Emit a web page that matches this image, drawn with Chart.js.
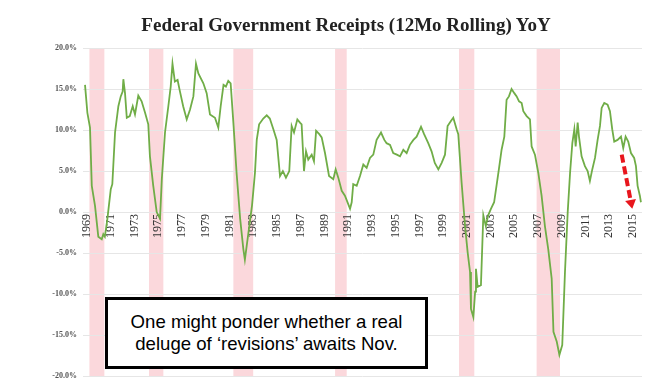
<!DOCTYPE html>
<html>
<head>
<meta charset="utf-8">
<script src="https://cdn.jsdelivr.net/npm/chart.js@4.4.1/dist/chart.umd.min.js"></script>
<style>
    html, body { margin: 0; padding: 0; background: #fff; }
    #wrap { position: relative; width: 667px; height: 387px; }
    #title {
        position: absolute;
        left: 0;
        top: 13px;
        width: 692px;
        text-align: center;
        font-family: 'Liberation Serif', serif;
        font-weight: bold;
        font-size: 19px;
        line-height: 24px;
        color: #222;
        white-space: nowrap;
    }
    #note {
        position: absolute;
        left: 105px;
        top: 297px;
        width: 323px;
        height: 72px;
        box-sizing: border-box;
        border: 3px solid #000;
        background: #fff;
        padding-top: 11px;
        font-family: 'Liberation Sans', Arial, sans-serif;
        font-size: 18.6px;
        line-height: 22px;
        color: #000;
        text-align: center;
    }
</style>
</head>
<body>
<div id="wrap">
    <canvas id="myLineChart" width="667" height="387"></canvas>
    <div id="title">Federal Government Receipts (12Mo Rolling) YoY</div>
    <div id="note">One might ponder whether a real<br>deluge of ‘revisions’ awaits Nov.</div>
</div>
<script>

// position on the time axis (years) and 12mo rolling receipts YoY (%)
var obsYear = [
    1968.83, 1969.03, 1969.25, 1969.4, 1969.67, 1969.95, 1970.24, 1970.37, 1970.5, 1970.7,
    1971.0, 1971.13, 1971.36, 1971.64, 1971.84, 1972.0, 1972.06, 1972.2, 1972.35, 1972.6,
    1972.85, 1973.04, 1973.32, 1973.6, 1973.89, 1974.16, 1974.3, 1974.58, 1974.87, 1975.15,
    1975.3, 1975.57, 1975.85, 1976.05, 1976.2, 1976.4, 1976.63, 1976.8, 1977.1, 1977.4,
    1977.68, 1977.96, 1978.18, 1978.38, 1978.8, 1979.08, 1979.36, 1979.78, 1980.06, 1980.26,
    1980.5, 1980.7, 1980.9, 1981.1, 1981.33, 1981.6, 1981.9, 1982.17, 1982.3, 1982.6,
    1982.9, 1983.15, 1983.3, 1983.5, 1983.85, 1984.14, 1984.4, 1984.7, 1984.98, 1985.26,
    1985.5, 1985.76, 1986.04, 1986.24, 1986.44, 1986.72, 1986.94, 1987.08, 1987.28, 1987.45,
    1987.64, 1987.93, 1988.12, 1988.3, 1988.57, 1988.77, 1989.05, 1989.39, 1989.75, 1989.95,
    1990.17, 1990.46, 1990.73, 1991.0, 1991.16, 1991.3, 1991.43, 1991.72, 1992.0, 1992.28,
    1992.56, 1992.84, 1993.12, 1993.4, 1993.77, 1994.05, 1994.24, 1994.53, 1994.8, 1995.1,
    1995.37, 1995.65, 1995.93, 1996.2, 1996.5, 1996.77, 1997.14, 1997.4, 1997.75, 1998.03,
    1998.3, 1998.6, 1998.88, 1999.16, 1999.38, 1999.66, 1999.86, 2000.14, 2000.28, 2000.56,
    2000.85, 2001.07, 2001.27, 2001.35, 2001.55, 2001.7, 2001.77, 2001.91, 2002.19, 2002.39,
    2002.6, 2002.8, 2003.03, 2003.3, 2003.5, 2003.7, 2003.93, 2004.16, 2004.35, 2004.55,
    2004.77, 2005.0, 2005.2, 2005.4, 2005.62, 2005.76, 2006.04, 2006.32, 2006.46, 2006.74,
    2007.02, 2007.3, 2007.58, 2007.86, 2008.15, 2008.3, 2008.58, 2008.8, 2009.04, 2009.27,
    2009.5, 2009.7, 2009.89, 2010.06, 2010.17, 2010.34, 2010.45, 2010.67, 2010.95, 2011.18,
    2011.37, 2011.57, 2011.8, 2012.02, 2012.22, 2012.36, 2012.58, 2012.86, 2013.06, 2013.25,
    2013.42, 2013.7, 2013.99, 2014.18, 2014.38, 2014.6, 2014.83, 2015.1, 2015.25, 2015.39,
    2015.58, 2015.67
];

var receiptsYoY = [
    15.5, 12.1, 10.3, 3.2, 0.8, -3.0, -3.3, -2.7, -3.0, -1.0,
    2.8, 3.4, 9.7, 12.9, 14.1, 14.7, 16.2, 14.5, 11.5, 11.7,
    12.9, 11.9, 14.2, 13.5, 12.1, 10.7, 6.8, 3.2, 0.0, -0.8,
    4.0, 9.7, 12.9, 15.3, 18.1, 15.9, 16.1, 14.9, 12.9, 11.3,
    12.5, 14.1, 18.1, 16.9, 15.7, 14.5, 11.9, 11.5, 10.3, 12.9,
    15.5, 15.3, 16.0, 15.7, 10.9, 4.8, -0.8, -4.5, -5.8, -2.5,
    0.8, 4.8, 8.8, 10.7, 11.4, 11.8, 11.4, 10.1, 8.8, 4.4,
    5.0, 4.2, 5.0, 10.5, 9.7, 11.3, 10.9, 10.7, 5.0, 7.4,
    6.4, 7.0, 6.2, 9.9, 9.5, 9.1, 7.2, 4.4, 4.0, 5.2,
    4.2, 2.6, 2.0, 1.0, 0.4, 1.2, 3.4, 3.2, 4.4, 5.8,
    5.4, 6.6, 7.0, 8.8, 9.7, 8.8, 8.4, 8.2, 7.2, 7.0,
    6.8, 7.6, 7.2, 8.2, 8.8, 9.2, 10.4, 9.5, 8.4, 7.4,
    6.0, 5.2, 6.0, 7.0, 10.5, 11.1, 11.5, 10.1, 9.5, 3.6,
    -1.7, -4.9, -7.3, -11.8, -12.8, -9.7, -6.9, -9.1, -8.9, -0.4,
    -1.7, -0.4, 0.4, 1.2, 3.2, 5.2, 7.6, 9.2, 13.7, 14.1,
    15.0, 14.5, 14.1, 13.5, 13.3, 12.3, 11.7, 11.3, 8.0, 7.0,
    4.8, 2.0, -1.7, -4.5, -8.1, -14.6, -15.8, -17.4, -16.2, -7.3,
    0.0, 4.8, 8.4, 10.1, 8.0, 10.9, 9.2, 6.8, 5.6, 5.0,
    3.8, 5.2, 6.6, 8.8, 10.5, 12.7, 13.3, 13.1, 12.3, 10.1,
    8.6, 8.8, 9.2, 7.8, 9.2, 8.6, 7.2, 6.6, 5.6, 3.2,
    2.0, 1.2
];

// shaded recessions (start / end on the time axis)
var recessionStart = [1969.2, 1974.22, 1981.33, 1989.9, 2000.34, 2006.88];
var recessionEnd = [1970.46, 1975.43, 1983.0, 1990.88, 2001.63, 2008.85];

// tick labels
var yearTicks = [1969, 1971, 1973, 1975, 1977, 1979, 1981, 1983, 1985, 1987, 1989, 1991,
    1993, 1995, 1997, 1999, 2001, 2003, 2005, 2007, 2009, 2011, 2013, 2015];
var pctTicks = [-20, -15, -10, -5, 0, 5, 10, 15, 20];

// red dashed arrow, [year, %]
var arrowFrom = [2014.05, 7.0];
var arrowTo = [2014.94, 0.4];

var recessionBands = {
    id: 'recessionBands',
    beforeDraw: function(chart) {
        var ctx = chart.ctx;
        var area = chart.chartArea;
        var x = chart.scales.x;
        ctx.save();
        ctx.fillStyle = '#fbd8dc';
        recessionStart.forEach(function(s, i) {
            var x0 = x.getPixelForValue(s);
            var x1 = x.getPixelForValue(recessionEnd[i]);
            ctx.fillRect(x0, area.top + 1, x1 - x0, area.bottom - area.top - 1);
        });
        ctx.restore();
    }
};

var revisionArrow = {
    id: 'revisionArrow',
    afterDatasetsDraw: function(chart) {
        var ctx = chart.ctx;
        var x = chart.scales.x, y = chart.scales.y;
        var x0 = x.getPixelForValue(arrowFrom[0]), y0 = y.getPixelForValue(arrowFrom[1]);
        var x1 = x.getPixelForValue(arrowTo[0]), y1 = y.getPixelForValue(arrowTo[1]);
        var ang = Math.atan2(y1 - y0, x1 - x0);
        var headLen = 9, headW = 5.5;
        var bx = x1 - headLen * Math.cos(ang), by = y1 - headLen * Math.sin(ang);
        ctx.save();
        ctx.strokeStyle = '#e8161d';
        ctx.fillStyle = '#e8161d';
        ctx.lineWidth = 4;
        ctx.setLineDash([8, 4]);
        ctx.beginPath();
        ctx.moveTo(x0, y0);
        ctx.lineTo(bx, by);
        ctx.stroke();
        ctx.setLineDash([]);
        ctx.beginPath();
        ctx.moveTo(x1, y1);
        ctx.lineTo(bx - headW * Math.sin(ang), by + headW * Math.cos(ang));
        ctx.lineTo(bx + headW * Math.sin(ang), by - headW * Math.cos(ang));
        ctx.closePath();
        ctx.fill();
        ctx.restore();
    }
};

var lineData = obsYear.map(function(v, i) {
    return { x: v, y: receiptsYoY[i] };
});

var ctx = document.getElementById('myLineChart').getContext('2d');
new Chart(ctx, {
    type: 'line',
    data: {
        datasets: [{
            data: lineData,
            borderColor: '#70ad47',
            borderWidth: 1.8,
            pointRadius: 0,
            tension: 0,
            fill: false
        }]
    },
    options: {
        responsive: false,
        animation: false,
        layout: {
            padding: { left: 0, right: 25, top: 48, bottom: 9 }
        },
        plugins: {
            legend: { display: false },
            tooltip: { enabled: false }
        },
        scales: {
            x: {
                type: 'linear',
                position: { y: 0 },
                min: 1968.66,
                max: 2015.76,
                afterBuildTicks: function(scale) {
                    scale.ticks = yearTicks.map(function(v) { return { value: v }; });
                },
                grid: { display: false, drawTicks: false },
                border: { display: false },
                ticks: {
                    autoSkip: false,
                    maxRotation: 90,
                    minRotation: 90,
                    padding: 2,
                    color: '#333',
                    font: { family: "'Liberation Serif', serif", size: 12 },
                    callback: function(value) { return String(value); }
                }
            },
            y: {
                min: -20,
                max: 20,
                afterBuildTicks: function(scale) {
                    scale.ticks = pctTicks.map(function(v) { return { value: v }; });
                },
                afterFit: function(scale) {
                    scale.width = 83;
                },
                grid: { color: '#e6e6e6', drawTicks: false },
                border: { display: false },
                ticks: {
                    padding: 6,
                    color: '#555',
                    font: { family: "'Liberation Serif', serif", size: 8, weight: 'bold' },
                    callback: function(value) { return value.toFixed(1) + '%'; }
                }
            }
        }
    },
    plugins: [recessionBands, revisionArrow]
});

</script>
</body>
</html>
